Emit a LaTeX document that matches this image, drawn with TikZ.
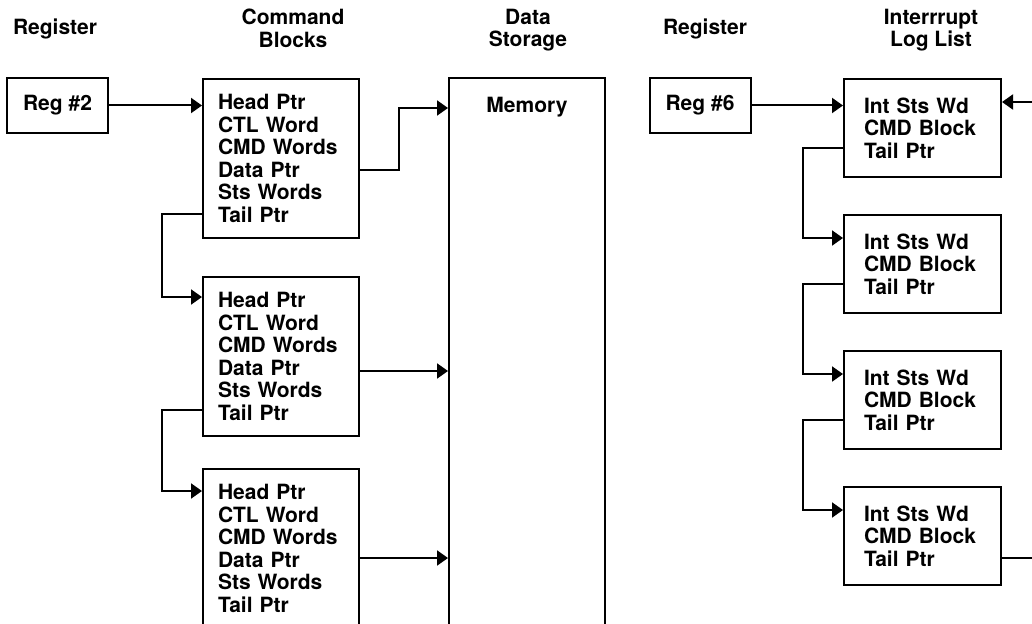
\documentclass[tikz,border=0pt]{standalone}
\usepackage{fontspec}
\setmainfont{TeX Gyre Heros}
\usetikzlibrary{arrows.meta,positioning}

\begin{document}
\begin{tikzpicture}[x=1pt,y=-1pt,line width=2pt,
	font=\fontsize{21}{22.6}\selectfont\bfseries,
	link/.style={-{Triangle[length=11pt,width=15pt]}},
	reg/.style={draw,minimum width=101pt,minimum height=55pt,inner sep=0pt},
	cmdblk/.style={draw,anchor=north west,align=left,text width=126pt,inner xsep=15pt,inner ysep=0pt,minimum height=159pt},
	logblk/.style={draw,anchor=north west,align=left,text width=117pt,inner xsep=20pt,inner ysep=0pt,minimum height=98pt},
	heading/.style={anchor=north,align=center,inner sep=0pt}]
	
	\useasboundingbox (0,0) rectangle (1032,623);
	\clip (0,0) rectangle (1032,623);
	
	% column titles
	\node[heading] (hreg) at (55,18) {Register};
	\node[heading] (hcmd) at (293,8) {Command\\Blocks};
	\node[heading] (hdata) at (528,8) {Data\\Storage};
	\node[heading] (hreg6) at (705,18) {Register};
	\node[heading] (hint) at (931,8) {Interrrupt\\Log List};
	
	% command block chain
	\node[reg] (reg2) at (57.5,105.5) {Reg \#2};
	\node[cmdblk] (cb1) at (202,78) {Head Ptr\\CTL Word\\CMD Words\\Data Ptr\\Sts Words\\Tail Ptr};
	\node[cmdblk,below=37pt of cb1] (cb2) {Head Ptr\\CTL Word\\CMD Words\\Data Ptr\\Sts Words\\Tail Ptr};
	\node[cmdblk,below=31pt of cb2] (cb3) {Head Ptr\\CTL Word\\CMD Words\\Data Ptr\\Sts Words\\Tail Ptr};
	\node[draw,anchor=north west,minimum width=156pt,minimum height=600pt,
		label={[anchor=base,yshift=-36pt]north:Memory}] (mem) at (448,77) {};
	
	\draw[link] (reg2) -- (reg2 -| cb1.west);
	\coordinate (d1) at ([yshift=-92pt]cb1.north east);
	\draw[link] (d1) -- ++(39pt,0pt) |- ([yshift=-31pt]mem.north west);
	\coordinate (d2) at ([yshift=-95pt]cb2.north east);
	\draw[link] (d2) -- (d2 -| mem.west);
	\coordinate (d3) at ([yshift=-90pt]cb3.north east);
	\draw[link] (d3) -- (d3 -| mem.west);
	\draw[link] ([yshift=-136pt]cb1.north west) -- ++(-40pt,0pt) |- ([yshift=-21pt]cb2.north west);
	\draw[link] ([yshift=-134pt]cb2.north west) -- ++(-40pt,0pt) |- ([yshift=-23pt]cb3.north west);
	
	% interrupt log list
	\node[reg] (reg6) at (700,105.5) {Reg \#6};
	\node[logblk] (ill1) at (843,78) {Int Sts Wd\\CMD Block\\Tail Ptr};
	\node[logblk,below=36pt of ill1] (ill2) {Int Sts Wd\\CMD Block\\Tail Ptr};
	\node[logblk,below=36pt of ill2] (ill3) {Int Sts Wd\\CMD Block\\Tail Ptr};
	\node[logblk,below=36pt of ill3] (ill4) {Int Sts Wd\\CMD Block\\Tail Ptr};
	
	\draw[link] (reg6) -- (reg6 -| ill1.west);
	\foreach \a/\b in {ill1/ill2,ill2/ill3,ill3/ill4}
		\draw[link] ([yshift=-70pt]\a.north west) -- ++(-40pt,0pt) |- ([yshift=-24pt]\b.north west);
	\draw[link] ([yshift=-72pt]ill4.north east) -- ++(40pt,0pt) |- ([yshift=-24pt]ill1.north east);
	
\end{tikzpicture}
\end{document}
